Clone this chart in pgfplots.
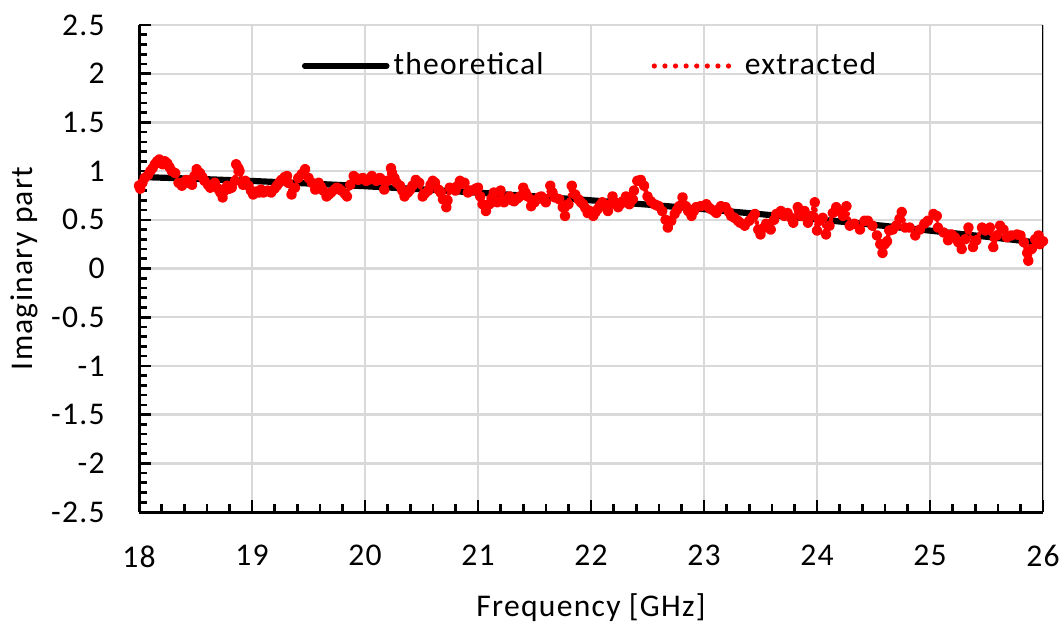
\documentclass[border=0pt]{standalone}
\usepackage{fontspec}
\setmainfont{Carlito}[LetterSpace=4]
\usepackage{pgfplots}
\pgfplotsset{compat=1.18}
\definecolor{gridgray}{HTML}{D9D9D9}
\begin{document}
\fontsize{15.8}{19}\selectfont
\begin{tikzpicture}
\begin{axis}[
  scale only axis, width=452pt, height=243.5pt,
  xmin=18, xmax=26, ymin=-2.5, ymax=2.5,
  xtick={18,19,20,21,22,23,24,25,26},
  ytick={-2.5,-2,-1.5,-1,-0.5,0,0.5,1,1.5,2,2.5},
  minor x tick num=4, minor y tick num=4,
  axis x line*=bottom, axis y line*=left,
  axis line style={line width=1.5pt, -},
  tick align=inside,
  major tick length=6pt, minor tick length=4pt,
  every tick/.style={black, line width=1.3pt},
  grid=major, major grid style={draw=gridgray, line width=1.2pt},
  /pgf/number format/assume math mode=true,
  xticklabel style={inner sep=0pt, anchor=north, yshift=-16.5pt},
  yticklabel style={inner sep=0pt, anchor=east, xshift=-17pt},
  xlabel={Frequency [GHz]},
  ylabel={Imaginary part},
  xlabel style={at={(axis description cs:0.5,-0.2136)}, anchor=base, inner sep=0pt},
  ylabel style={at={(axis description cs:-0.1173,0.5)}, anchor=base, inner sep=0pt},
  legend columns=2,
  legend style={at={(axis description cs:0.5,0.9158)}, anchor=center, draw=none, fill=none,
    /tikz/every even column/.append style={column sep=52pt}},
]
\addplot[black, line width=3.1pt, line join=round,
  legend image code/.code={\draw[black, line width=2.8pt, line cap=round] (0pt,0pt) -- (41pt,0pt);}]
  coordinates {(18,0.94) (18.5,0.921) (19,0.899) (19.5,0.873) (20,0.845) (20.5,0.813)
  (21,0.779) (21.5,0.741) (22,0.700) (22.5,0.656) (23,0.609) (23.5,0.558) (24,0.505)
  (24.5,0.449) (25,0.389) (25.5,0.326) (26,0.26)};
\addlegendentry{theoretical}
\addplot[red, line width=2.4pt, line cap=round, line join=round, dash pattern=on 0pt off 2.4pt,
  mark=*, mark size=1.45pt, mark options={solid, fill=red, draw=none},
  legend image code/.code={\draw[red, line width=2.6pt, line cap=round, dash pattern=on 0pt off 5.3pt] (0pt,0pt) -- (42pt,0pt);}]
  table {
18.00 0.85
18.01 0.82
18.03 0.88
18.05 0.93
18.08 0.96
18.10 1.00
18.12 1.03
18.14 1.07
18.16 1.10
18.18 1.12
18.21 1.07
18.23 1.10
18.25 1.08
18.27 1.04
18.29 1.00
18.32 0.98
18.35 0.88
18.38 0.85
18.40 0.89
18.42 0.91
18.44 0.88
18.47 0.86
18.49 0.95
18.51 1.02
18.54 0.98
18.56 0.94
18.58 0.90
18.61 0.86
18.63 0.83
18.65 0.86
18.67 0.88
18.70 0.82
18.72 0.78
18.74 0.73
18.76 0.80
18.78 0.85
18.80 0.82
18.82 0.83
18.85 0.90
18.86 1.07
18.88 1.03
18.89 1.00
18.92 0.86
18.94 0.90
18.97 0.85
18.99 0.80
19.01 0.76
19.04 0.79
19.06 0.78
19.08 0.81
19.10 0.78
19.12 0.79
19.14 0.80
19.17 0.78
19.20 0.82
19.22 0.85
19.24 0.88
19.26 0.91
19.29 0.94
19.31 0.95
19.32 0.88
19.35 0.76
19.38 0.83
19.41 0.93
19.44 0.97
19.47 1.02
19.50 0.93
19.53 0.88
19.56 0.81
19.59 0.88
19.61 0.84
19.63 0.80
19.66 0.74
19.68 0.76
19.70 0.78
19.73 0.81
19.75 0.83
19.77 0.82
19.79 0.80
19.82 0.77
19.84 0.74
19.87 0.86
19.90 0.95
19.92 0.93
19.94 0.91
19.96 0.92
19.98 0.93
20.01 0.90
20.03 0.91
20.06 0.95
20.08 0.92
20.10 0.90
20.13 0.93
20.15 0.91
20.17 0.81
20.20 0.90
20.23 1.03
20.24 0.98
20.26 0.93
20.28 0.88
20.31 0.85
20.33 0.80
20.35 0.74
20.38 0.78
20.40 0.81
20.42 0.85
20.45 0.91
20.48 0.88
20.51 0.74
20.53 0.77
20.56 0.80
20.58 0.86
20.60 0.90
20.62 0.88
20.65 0.81
20.67 0.78
20.69 0.71
20.72 0.63
20.73 0.70
20.75 0.83
20.78 0.82
20.80 0.80
20.82 0.85
20.84 0.90
20.86 0.87
20.88 0.88
20.91 0.78
20.93 0.80
20.95 0.80
20.98 0.82
21.00 0.83
21.02 0.74
21.04 0.66
21.07 0.59
21.10 0.66
21.12 0.72
21.14 0.78
21.17 0.68
21.20 0.80
21.23 0.68
21.25 0.71
21.28 0.74
21.30 0.70
21.32 0.69
21.35 0.72
21.37 0.74
21.40 0.83
21.42 0.78
21.44 0.74
21.47 0.64
21.50 0.68
21.52 0.71
21.54 0.73
21.56 0.74
21.58 0.71
21.60 0.68
21.64 0.85
21.66 0.78
21.68 0.73
21.72 0.71
21.75 0.63
21.77 0.54
21.80 0.66
21.83 0.85
21.86 0.76
21.89 0.71
21.91 0.68
21.93 0.66
21.95 0.62
21.97 0.57
21.99 0.59
22.02 0.54
22.04 0.58
22.06 0.61
22.08 0.65
22.10 0.68
22.13 0.63
22.15 0.59
22.17 0.66
22.19 0.74
22.21 0.68
22.24 0.63
22.26 0.66
22.28 0.69
22.31 0.74
22.34 0.66
22.37 0.71
22.38 0.80
22.41 0.90
22.44 0.91
22.47 0.85
22.50 0.74
22.53 0.69
22.56 0.66
22.58 0.65
22.60 0.64
22.63 0.59
22.66 0.50
22.68 0.42
22.71 0.49
22.74 0.56
22.76 0.60
22.78 0.64
22.81 0.73
22.84 0.64
22.86 0.59
22.89 0.54
22.91 0.59
22.93 0.63
22.97 0.64
23.02 0.66
23.04 0.63
23.06 0.61
23.09 0.59
23.11 0.57
23.13 0.61
23.15 0.64
23.19 0.63
23.22 0.58
23.24 0.54
23.27 0.52
23.30 0.49
23.32 0.47
23.36 0.44
23.40 0.49
23.43 0.53
23.45 0.56
23.48 0.40
23.50 0.35
23.53 0.42
23.55 0.46
23.57 0.43
23.59 0.40
23.62 0.50
23.64 0.56
23.68 0.59
23.71 0.54
23.74 0.57
23.77 0.52
23.79 0.47
23.83 0.63
23.86 0.54
23.89 0.59
23.92 0.47
23.95 0.54
23.98 0.68
24.00 0.39
24.02 0.49
24.05 0.52
24.08 0.35
24.11 0.44
24.14 0.57
24.17 0.63
24.20 0.59
24.23 0.54
24.26 0.64
24.29 0.44
24.33 0.46
24.38 0.40
24.42 0.49
24.45 0.49
24.49 0.44
24.53 0.34
24.56 0.25
24.58 0.16
24.60 0.25
24.62 0.28
24.64 0.39
24.67 0.40
24.70 0.44
24.73 0.51
24.75 0.58
24.78 0.42
24.82 0.42
24.87 0.34
24.91 0.40
24.95 0.46
24.98 0.49
25.03 0.56
25.06 0.54
25.07 0.42
25.12 0.37
25.16 0.29
25.19 0.35
25.22 0.32
25.25 0.27
25.28 0.20
25.31 0.30
25.34 0.42
25.38 0.22
25.41 0.29
25.46 0.42
25.49 0.39
25.53 0.42
25.56 0.22
25.59 0.34
25.62 0.44
25.65 0.40
25.68 0.32
25.72 0.34
25.77 0.35
25.80 0.34
25.83 0.27
25.86 0.16
25.87 0.08
25.90 0.20
25.93 0.30
25.96 0.34
25.97 0.25
26.00 0.28
};
\addlegendentry{extracted}
\draw[black, line width=1.5pt] (rel axis cs:1,0) -- (rel axis cs:1,1);
\end{axis}
\path ([xshift=-69.5pt, yshift=-58pt]current axis.south west) rectangle ([xshift=10.5pt, yshift=12.5pt]current axis.north east);
\end{tikzpicture}
\end{document}
